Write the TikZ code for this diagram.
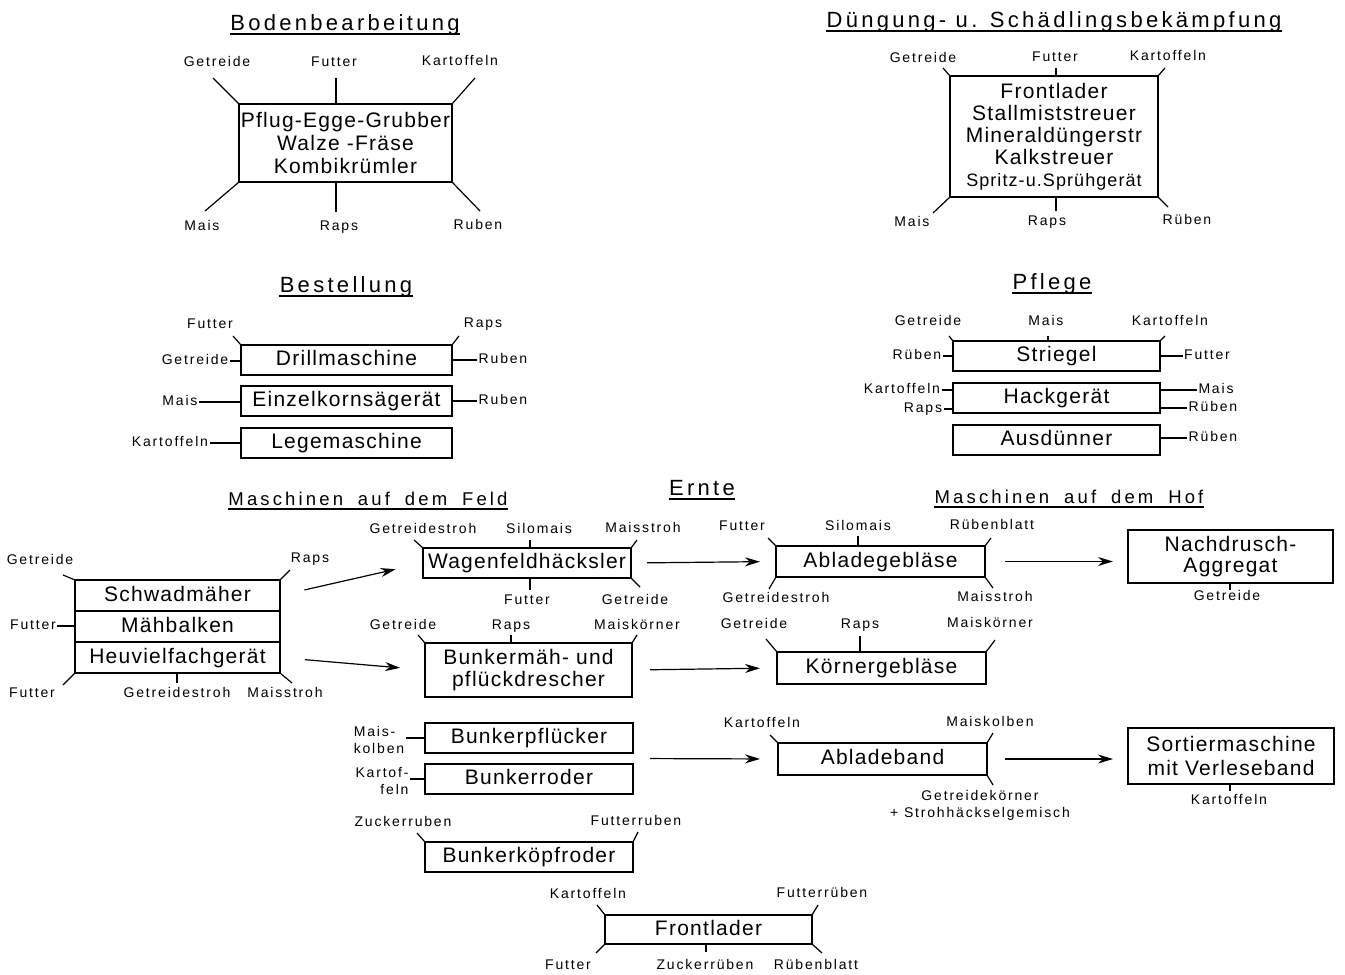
\documentclass[tikz,border=0pt]{standalone}
\usepackage{fontspec}
\setmainfont{Liberation Sans}
\newfontfamily\boxfont[LetterSpace=6]{Liberation Sans}
\newfontfamily\lblfont[LetterSpace=13]{Liberation Sans}
\newfontfamily\ttlfont[LetterSpace=15]{Liberation Sans}
\newfontfamily\subfont[LetterSpace=17,WordSpace=1.8]{Liberation Sans}
\usetikzlibrary{arrows.meta, positioning, calc}

\begin{document}
\begin{tikzpicture}
    [x=1pt, y=-1pt, line width=1.2pt, node distance=12pt,
    >={Stealth[length=15pt,width=9pt]},
    box/.style={rectangle, draw=black, outer sep=0pt, inner sep=1pt,
        minimum width=208pt, minimum height=30pt,
        font=\boxfont\fontsize{21}{24}\selectfont, text height=15pt, text depth=4pt},
    mbox/.style={rectangle, draw=black, outer sep=0pt, inner sep=1pt, align=center,
        font=\boxfont\fontsize{21}{23}\selectfont},
    lbl/.style={inner sep=1pt, font=\lblfont\fontsize{14}{16}\selectfont,
        text height=10pt, text depth=3pt},
    lbltwo/.style={inner sep=1pt, font=\lblfont\fontsize{14}{17}\selectfont},
    ttl/.style={anchor=base, inner xsep=0pt, font=\ttlfont\fontsize{22}{24}\selectfont},
    subttl/.style={anchor=base, inner xsep=0pt, font=\subfont\fontsize{18.5}{20}\selectfont}]

    \useasboundingbox (0,0) rectangle (1345,975);

    % Bodenbearbeitung
    \node[ttl] (tbb) at (345,30) {Bodenbearbeitung};
    \node[mbox, minimum width=213pt, minimum height=78pt] (bb) at (345.5,143)
        {Pflug-Egge-Grubber\\Walze -Fräse\\Kombikrümler};
    \node[lbl] (bb-g) at (217,63) {Getreide};
    \node[lbl] (bb-f) at (334,63) {Futter};
    \node[lbl] (bb-k) at (460,62) {Kartoffeln};
    \node[lbl] (bb-m) at (202,227) {Mais};
    \node[lbl] (bb-r) at (339,227) {Raps};
    \node[lbl] (bb-u) at (478,226) {Ruben};
    \coordinate (bb1) at (213,78);
    \coordinate (bb2) at (336,78);
    \coordinate (bb3) at (475,78);
    \coordinate (bb4) at (205,211);
    \coordinate (bb5) at (336,212);
    \coordinate (bb6) at (480,211);
    \draw (bb.north west) -- (bb1);
    \draw (bb2 |- bb.north) -- (bb2);
    \draw (bb.north east) -- (bb3);
    \draw (bb.south west) -- (bb4);
    \draw (bb5 |- bb.south) -- (bb5);
    \draw (bb.south east) -- (bb6);

    % Duengung
    \node[ttl] (tdg) at (1054,27) {Düngung- u. Schädlingsbekämpfung};
    \node[mbox, minimum width=208pt, minimum height=121pt,
        font=\boxfont\fontsize{21}{22}\selectfont] (dg) at (1054,136.5)
        {Frontlader\\Stallmiststreuer\\Mineraldüngerstr\\Kalkstreuer\\
         {\fontsize{18}{20}\selectfont Spritz-u.Sprühgerät}};
    \node[lbl] (dg-g) at (923,59) {Getreide};
    \node[lbl] (dg-f) at (1055,58) {Futter};
    \node[lbl] (dg-k) at (1168,57) {Kartoffeln};
    \node[lbl] (dg-m) at (912,223) {Mais};
    \node[lbl] (dg-r) at (1047,222) {Raps};
    \node[lbl] (dg-u) at (1187,221) {Rüben};
    \coordinate (dg1) at (943,68);
    \coordinate (dg2) at (1056,68);
    \coordinate (dg3) at (1165,68);
    \coordinate (dg4) at (933,213);
    \coordinate (dg5) at (1056,211);
    \coordinate (dg6) at (1168,207);
    \draw (dg.north west) -- (dg1);
    \draw (dg2 |- dg.north) -- (dg2);
    \draw (dg.north east) -- (dg3);
    \draw (dg.south west) -- (dg4);
    \draw (dg5 |- dg.south) -- (dg5);
    \draw (dg.south east) -- (dg6);

    % Bestellung
    \node[ttl] (tbs) at (346,292) {Bestellung};
    \node[box, minimum width=211pt] (dm) at (346.5,360) {Drillmaschine};
    \node[box, minimum width=211pt] (ek) [below=11pt of dm] {Einzelkornsägerät};
    \node[box, minimum width=211pt] (lm) [below=of ek] {Legemaschine};
    \node[lbl] (dm-f) at (210,325) {Futter};
    \node[lbl] (dm-r) at (483,324) {Raps};
    \node[lbl] (dm-g) at (195,361) {Getreide};
    \node[lbl] (dm-u) at (503,360) {Ruben};
    \node[lbl] (ek-m) at (180,402) {Mais};
    \node[lbl] (ek-u) at (503,401) {Ruben};
    \node[lbl] (lm-k) at (170,443) {Kartoffeln};
    \coordinate (dm1) at (233,336);
    \coordinate (dm2) at (459,336);
    \draw (dm.north west) -- (dm1);
    \draw (dm.north east) -- (dm2);
    \draw (dm-g) -- (dm-g -| dm.west);
    \draw (dm-u) -- (dm-u -| dm.east);
    \draw (ek-m) -- (ek-m -| ek.west);
    \draw (ek-u) -- (ek-u -| ek.east);
    \draw (lm-k) -- (lm-k -| lm.west);

    % Pflege
    \node[ttl] (tpf) at (1052,289) {Pflege};
    \node[box, minimum width=207pt] (st) at (1056.5,356) {Striegel};
    \node[box, minimum width=207pt] (hg) [below=of st] {Hackgerät};
    \node[box, minimum width=207pt] (ad) [below=of hg] {Ausdünner};
    \node[lbl] (st-g) at (928,322) {Getreide};
    \node[lbl] (st-m) at (1046,322) {Mais};
    \node[lbl] (st-k) at (1170,322) {Kartoffeln};
    \node[lbl] (st-u) at (917,356) {Rüben};
    \node[lbl] (st-f) at (1207,356) {Futter};
    \node[lbl] (hg-k) at (902,390) {Kartoffeln};
    \node[lbl] (hg-r) at (923,409) {Raps};
    \node[lbl] (hg-m) at (1216,390) {Mais};
    \node[lbl] (hg-u) at (1213,408) {Rüben};
    \node[lbl] (ad-u) at (1213,438) {Rüben};
    \coordinate (st1) at (949,336);
    \coordinate (st2) at (1048,336);
    \coordinate (st3) at (1165,336);
    \draw (st.north west) -- (st1);
    \draw (st2 |- st.north) -- (st2);
    \draw (st.north east) -- (st3);
    \draw (st-u) -- (st-u -| st.west);
    \draw (st-f) -- (st-f -| st.east);
    \draw (hg-k) -- (hg-k -| hg.west);
    \draw (hg-r) -- (hg-r -| hg.west);
    \draw (hg-m) -- (hg-m -| hg.east);
    \draw (hg-u) -- (hg-u -| hg.east);
    \draw (ad-u) -- (ad-u -| ad.east);

    % Ernte
    \node[ttl] (ter) at (702,495) {Ernte};
    \node[subttl] (tfe) at (368,505) {Maschinen auf dem Feld};
    \node[subttl] (tho) at (1069,503) {Maschinen auf dem Hof};

    \node[box, minimum width=205pt, minimum height=31pt] (sm) at (177.5,595.5) {Schwadmäher};
    \node[box, minimum width=205pt, minimum height=31pt] (mb) [below=0pt of sm] {Mähbalken};
    \node[box, minimum width=205pt, minimum height=31pt] (hv) [below=0pt of mb] {Heuvielfachgerät};
    \node[lbl] (sm-g) at (40,561) {Getreide};
    \node[lbl] (sm-r) at (310,559) {Raps};
    \node[lbl] (mb-f) at (33,626) {Futter};
    \node[lbl] (hv-f) at (32,694) {Futter};
    \node[lbl] (hv-g) at (177,694) {Getreidestroh};
    \node[lbl] (hv-m) at (285,694) {Maisstroh};
    \coordinate (sm1) at (63,575);
    \coordinate (sm2) at (290,570);
    \coordinate (hv1) at (63,685);
    \coordinate (hv2) at (177,683);
    \coordinate (hv3) at (292,683);
    \draw (sm.north west) -- (sm1);
    \draw (sm.north east) -- (sm2);
    \draw (mb-f) -- (mb-f -| mb.west);
    \draw (hv.south west) -- (hv1);
    \draw (hv2 |- hv.south) -- (hv2);
    \draw (hv.south east) -- (hv3);

    \node[box, minimum width=208pt] (wfh) at (527,563) {Wagenfeldhäcksler};
    \node[lbl] (wf-g) at (423,530) {Getreidestroh};
    \node[lbl] (wf-s) at (539,530) {Silomais};
    \node[lbl] (wf-m) at (643,529) {Maisstroh};
    \node[lbl] (wf-f) at (527,601) {Futter};
    \node[lbl] (wf-r) at (635,601) {Getreide};
    \coordinate (wf1) at (414,540);
    \coordinate (wf2) at (530,540);
    \coordinate (wf3) at (637,540);
    \coordinate (wf4) at (530,590);
    \coordinate (wf5) at (640,587);
    \draw (wfh.north west) -- (wf1);
    \draw (wf2 |- wfh.north) -- (wf2);
    \draw (wfh.north east) -- (wf3);
    \draw (wf4 |- wfh.south) -- (wf4);
    \draw (wfh.south east) -- (wf5);

    \node[mbox, minimum width=207pt, minimum height=54pt,
        font=\boxfont\fontsize{21}{22}\selectfont] (bmd) at (528.5,670)
        {Bunkermäh- und\\pflückdrescher};
    \node[lbl] (bmd-g) at (403,626) {Getreide};
    \node[lbl] (bmd-r) at (511,626) {Raps};
    \node[lbl] (bmd-m) at (637,626) {Maiskörner};
    \coordinate (bmd1) at (418,635);
    \coordinate (bmd2) at (511,635);
    \coordinate (bmd3) at (637,635);
    \draw (bmd.north west) -- (bmd1);
    \draw (bmd2 |- bmd.north) -- (bmd2);
    \draw (bmd.north east) -- (bmd3);

    \node[box, minimum width=209pt, minimum height=31pt] (abg) at (880.5,561.5) {Abladegebläse};
    \node[lbl] (abg-f) at (742,527) {Futter};
    \node[lbl] (abg-s) at (858,527) {Silomais};
    \node[lbl] (abg-b) at (992,526) {Rübenblatt};
    \node[lbl] (abg-g) at (776,599) {Getreidestroh};
    \node[lbl] (abg-m) at (995,598) {Maisstroh};
    \coordinate (abg1) at (768,538);
    \coordinate (abg2) at (858,536);
    \coordinate (abg3) at (991,538);
    \coordinate (abg4) at (769,589);
    \coordinate (abg5) at (993,588);
    \draw (abg.north west) -- (abg1);
    \draw (abg2 |- abg.north) -- (abg2);
    \draw (abg.north east) -- (abg3);
    \draw (abg.south west) -- (abg4);
    \draw (abg.south east) -- (abg5);

    \node[mbox, minimum width=205pt, minimum height=53pt,
        font=\boxfont\fontsize{21}{21}\selectfont] (nd) at (1230.5,556.5)
        {Nachdrusch-\\Aggregat};
    \node[lbl] (nd-g) at (1227,597) {Getreide};
    \coordinate (nd1) at (1230,590);
    \draw (nd1 |- nd.south) -- (nd1);

    \node[box, minimum width=209pt, minimum height=32pt] (kg) at (881.5,668) {Körnergebläse};
    \node[lbl] (kg-g) at (754,625) {Getreide};
    \node[lbl] (kg-r) at (860,625) {Raps};
    \node[lbl] (kg-m) at (990,624) {Maiskörner};
    \coordinate (kg1) at (766,639);
    \coordinate (kg2) at (860,636);
    \coordinate (kg3) at (995,640);
    \draw (kg.north west) -- (kg1);
    \draw (kg2 |- kg.north) -- (kg2);
    \draw (kg.north east) -- (kg3);

    \node[box] (bp) at (529,738) {Bunkerpflücker};
    \node[box] (br) [below=11pt of bp] {Bunkerroder};
    \node[lbltwo, align=left] (bp-m) at (379,740) {Mais-\\kolben};
    \node[lbltwo, align=right] (br-k) at (382,781) {Kartof-\\feln};
    \draw (bp-m.east |- bp.west) -- (bp.west);
    \draw (br-k.east |- br.west) -- (br.west);

    \node[box] (bkr) at (529,857) {Bunkerköpfroder};
    \node[lbl] (bkr-z) at (403,823) {Zuckerruben};
    \node[lbl] (bkr-f) at (636,822) {Futterruben};
    \coordinate (bkr1) at (417,833);
    \coordinate (bkr2) at (638,832);
    \draw (bkr.north west) -- (bkr1);
    \draw (bkr.north east) -- (bkr2);

    \node[box, minimum width=209pt, minimum height=32pt] (abb) at (882.5,759) {Abladeband};
    \node[lbl] (abb-k) at (762,724) {Kartoffeln};
    \node[lbl] (abb-m) at (990,723) {Maiskolben};
    \node[lbltwo, align=center] (abb-g) at (980,805) {Getreidekörner\\+ Strohhäckselgemisch};
    \coordinate (abb1) at (770,735);
    \coordinate (abb2) at (993,733);
    \coordinate (abb3) at (993,785);
    \draw (abb.north west) -- (abb1);
    \draw (abb.north east) -- (abb2);
    \draw (abb.south east) -- (abb3);

    \node[mbox, minimum width=206pt, minimum height=56pt,
        font=\boxfont\fontsize{21}{24}\selectfont] (sortm) at (1231,756)
        {Sortiermaschine\\mit Verleseband};
    \node[lbl] (sortm-k) at (1229,801) {Kartoffeln};
    \coordinate (sortm1) at (1230,791);
    \draw (sortm1 |- sortm.south) -- (sortm1);

    \node[box, minimum width=207pt, minimum height=29pt] (fl) at (708.5,929.5) {Frontlader};
    \node[lbl] (fl-k) at (588,895) {Kartoffeln};
    \node[lbl] (fl-u) at (822,894) {Futterrüben};
    \node[lbl] (fl-f) at (568,966) {Futter};
    \node[lbl] (fl-z) at (705,966) {Zuckerrüben};
    \node[lbl] (fl-b) at (816,966) {Rübenblatt};
    \coordinate (fl1) at (597,905);
    \coordinate (fl2) at (818,905);
    \coordinate (fl3) at (596,953);
    \coordinate (fl4) at (706,952);
    \coordinate (fl5) at (822,953);
    \draw (fl.north west) -- (fl1);
    \draw (fl.north east) -- (fl2);
    \draw (fl.south west) -- (fl3);
    \draw (fl4 |- fl.south) -- (fl4);
    \draw (fl.south east) -- (fl5);

    % arrows
    \draw[->, shorten <=25pt, shorten >=28pt] (sm.east) -- (wfh.west);
    \draw[->, shorten <=25pt, shorten >=25pt] (hv.east) -- (bmd.west);
    \draw[->, shorten <=16pt, shorten >=16pt] (wfh.east) -- (abg.west);
    \draw[->, shorten <=18pt, shorten >=17pt] (bmd.east) -- (kg.west);
    \draw[->, shorten <=20pt, shorten >=15pt] (abg.east) -- (abg.east -| nd.west);
    \draw[->, shorten <=17pt, shorten >=18pt] ($(bp.east)!.5!(br.east)$) -- (abb.west);
    \draw[->, shorten <=18pt, shorten >=15pt] (abb.east) -- (abb.east -| sortm.west);

    % underlines
    \foreach \t in {tbb,tdg,tbs,tpf,ter,tfe,tho}
        \draw ([yshift=-4pt]\t.base west) -- ([yshift=-4pt]\t.base east);

\end{tikzpicture}
\end{document}
